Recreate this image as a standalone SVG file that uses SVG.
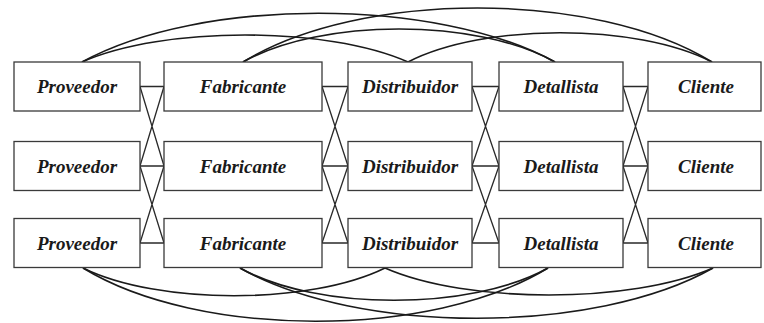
<svg xmlns="http://www.w3.org/2000/svg" width="764" height="323" viewBox="0 0 764 323">
<style>
.box{fill:#fff;stroke:#3a3a3a;stroke-width:1.3}
.lbl{font-family:"Liberation Serif","Times New Roman",serif;font-weight:bold;font-style:italic;font-size:19px;fill:#1a1a1a;text-anchor:middle}
.ln{stroke:#2a2a2a;stroke-width:1.3;fill:none}
.arc{stroke:#1a1a1a;stroke-width:1.6;fill:none}
</style>
<rect width="764" height="323" fill="#fff"/>
<g id="connectors">
<!-- top arcs -->
<path class="arc" d="M82,62 C163,26 327,26 408,62"/>
<path class="arc" d="M82,62 C200,-3 437,-3 555,62"/>
<path class="arc" d="M243,62 C321,18 477,18 555,62"/>
<path class="arc" d="M243,62 C360,-10 595,-10 712,62"/>
<path class="arc" d="M408,62 C484,23 636,23 712,62"/>
<!-- bottom arcs -->
<path class="arc" d="M83,268 C158,305 310,305 385,268"/>
<path class="arc" d="M83,268 C199,339 432,339 548,268"/>
<path class="arc" d="M240,268 C317,311 471,311 548,268"/>
<path class="arc" d="M240,268 C358,335 595,335 713,268"/>
<path class="arc" d="M385,268 C467,304 631,304 713,268"/>
<!-- P-F -->
<path class="ln" d="M140,86.5H164M140,166H164M140,243H164M140,86.5L164,166M140,166L164,86.5M140,166L164,243M140,243L164,166"/>
<!-- F-D -->
<path class="ln" d="M322,86.5H348M322,166H348M322,243H348M322,86.5L348,166M322,166L348,86.5M322,166L348,243M322,243L348,166"/>
<!-- D-Det -->
<path class="ln" d="M472,86.5H499M472,166H499M472,243H499M472,86.5L499,166M472,166L499,86.5M472,166L499,243M472,243L499,166"/>
<!-- Det-C -->
<path class="ln" d="M623,86.5H648M623,166H648M623,243H648M623,86.5L648,166M623,166L648,86.5M623,166L648,243M623,243L648,166"/>
</g>
<g id="proveedor1"><rect class="box" x="14" y="62" width="126" height="49"/><text class="lbl" x="77" y="93">Proveedor</text></g>
<g id="proveedor2"><rect class="box" x="14" y="141.5" width="126" height="49"/><text class="lbl" x="77" y="172.5">Proveedor</text></g>
<g id="proveedor3"><rect class="box" x="14" y="218.5" width="126" height="49"/><text class="lbl" x="77" y="249.5">Proveedor</text></g>
<g id="fabricante1"><rect class="box" x="164" y="62" width="158" height="49"/><text class="lbl" x="243" y="93">Fabricante</text></g>
<g id="fabricante2"><rect class="box" x="164" y="141.5" width="158" height="49"/><text class="lbl" x="243" y="172.5">Fabricante</text></g>
<g id="fabricante3"><rect class="box" x="164" y="218.5" width="158" height="49"/><text class="lbl" x="243" y="249.5">Fabricante</text></g>
<g id="distribuidor1"><rect class="box" x="348" y="62" width="124" height="49"/><text class="lbl" x="410" y="93">Distribuidor</text></g>
<g id="distribuidor2"><rect class="box" x="348" y="141.5" width="124" height="49"/><text class="lbl" x="410" y="172.5">Distribuidor</text></g>
<g id="distribuidor3"><rect class="box" x="348" y="218.5" width="124" height="49"/><text class="lbl" x="410" y="249.5">Distribuidor</text></g>
<g id="detallista1"><rect class="box" x="499" y="62" width="124" height="49"/><text class="lbl" x="561" y="93">Detallista</text></g>
<g id="detallista2"><rect class="box" x="499" y="141.5" width="124" height="49"/><text class="lbl" x="561" y="172.5">Detallista</text></g>
<g id="detallista3"><rect class="box" x="499" y="218.5" width="124" height="49"/><text class="lbl" x="561" y="249.5">Detallista</text></g>
<g id="cliente1"><rect class="box" x="648" y="62" width="113" height="49"/><text class="lbl" x="706" y="93">Cliente</text></g>
<g id="cliente2"><rect class="box" x="648" y="141.5" width="113" height="49"/><text class="lbl" x="706" y="172.5">Cliente</text></g>
<g id="cliente3"><rect class="box" x="648" y="218.5" width="113" height="49"/><text class="lbl" x="706" y="249.5">Cliente</text></g>
</svg>
